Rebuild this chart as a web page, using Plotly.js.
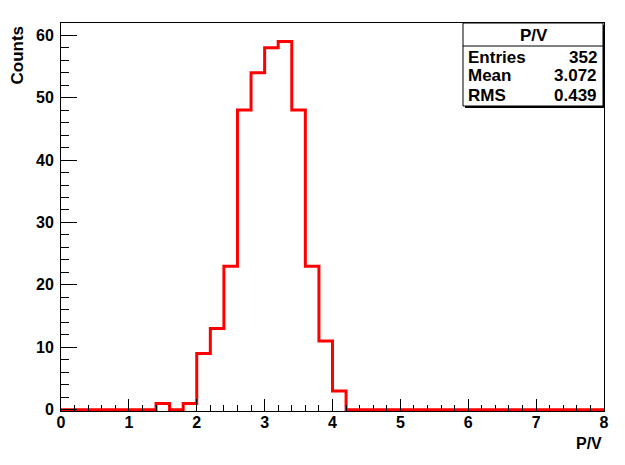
<!DOCTYPE html>
<html>
<head>
<meta charset="utf-8">
<script src="https://cdn.plot.ly/plotly-3.0.1.min.js"></script>
<style>
  body { margin: 0; background: #fff; }
  #hist { width: 625px; height: 465px; }
</style>
</head>
<body>
<div id="hist"></div>
<script>
// P/V histogram, 40 bins of 0.2 from 0 to 8
var binWidth = 0.2;
var xMin = 0;
var counts = [
  0, 0, 0, 0, 0, 0, 0, 1, 0, 1,
  9, 13, 23, 48, 54, 58, 59, 48, 23, 11,
  3, 0, 0, 0, 0, 0, 0, 0, 0, 0,
  0, 0, 0, 0, 0, 0, 0, 0, 0, 0
];
var statNames = ['Entries', 'Mean', 'RMS'];
var statValues = ['352', '3.072', '0.439'];

// step outline: one point per bin edge, last count repeated
var edges = [];
var steps = [];
for (var i = 0; i <= counts.length; i++) {
  edges.push(xMin + i * binWidth);
  steps.push(counts[Math.min(i, counts.length - 1)]);
}

// plot area in pixels
var L = 61, R = 604, T = 23, B = 411;
function px(x) { return (x - L) / (R - L); }
function py(y) { return (B - y) / (B - T); }

var bold = {family: 'Liberation Sans, Arial, sans-serif', size: 16, color: 'black', weight: 700};
var statFont = {family: 'Liberation Sans, Arial, sans-serif', size: 17, color: 'black', weight: 700};

var trace = {
  x: edges,
  y: steps,
  type: 'scatter',
  mode: 'lines',
  line: {shape: 'hv', color: '#ff0000', width: 3},
  hoverinfo: 'x+y'
};

var shapes = [
  // shadow
  {type: 'rect', xref: 'paper', yref: 'paper', x0: px(465), x1: px(605), y0: py(108), y1: py(25),
   fillcolor: 'black', line: {width: 0}, layer: 'above'},
  {type: 'rect', xref: 'paper', yref: 'paper', x0: px(463), x1: px(603), y0: py(106), y1: py(23),
   fillcolor: 'white', line: {color: 'black', width: 1}, layer: 'above'},
  {type: 'line', xref: 'paper', yref: 'paper', x0: px(463), x1: px(603), y0: py(46), y1: py(46),
   line: {color: 'black', width: 1}, layer: 'above'}
];

var annotations = [
  {text: 'P/V', xref: 'paper', yref: 'paper', x: px(534), y: py(35), xanchor: 'center', yanchor: 'middle',
   showarrow: false, font: statFont},
  {text: 'Counts', xref: 'paper', yref: 'paper', x: px(17), y: py(24), xanchor: 'center', yanchor: 'top',
   textangle: -90, showarrow: false, font: statFont},
  {text: 'P/V', xref: 'paper', yref: 'paper', x: px(604), y: py(443), xanchor: 'right', yanchor: 'middle',
   showarrow: false, font: bold}
];
var rowY = [57, 76, 95];
for (var k = 0; k < statNames.length; k++) {
  annotations.push({text: statNames[k], xref: 'paper', yref: 'paper', x: px(466), y: py(rowY[k]),
    xanchor: 'left', yanchor: 'middle', showarrow: false, font: statFont});
  annotations.push({text: statValues[k], xref: 'paper', yref: 'paper', x: px(599), y: py(rowY[k]),
    xanchor: 'right', yanchor: 'middle', showarrow: false, font: statFont});
}

var layout = {
  width: 625,
  height: 465,
  margin: {l: L, r: 625 - R, t: T, b: 465 - B, pad: 0},
  paper_bgcolor: 'white',
  plot_bgcolor: 'white',
  showlegend: false,
  font: bold,
  xaxis: {
    range: [0, 8],
    tickmode: 'linear', tick0: 0, dtick: 1,
    ticks: 'inside', ticklen: 12, tickwidth: 1, tickcolor: 'black',
    minor: {dtick: 0.2, ticks: 'inside', ticklen: 6, tickcolor: 'black', tickwidth: 1},
    showgrid: false, zeroline: false,
    showline: true, linecolor: 'black', linewidth: 1, mirror: true,
    ticklabelstandoff: -3,
    tickfont: bold
  },
  yaxis: {
    range: [-0.2, 61.95],
    tickmode: 'linear', tick0: 0, dtick: 10,
    ticks: 'inside', ticklen: 16, tickwidth: 1, tickcolor: 'black',
    minor: {dtick: 2, ticks: 'inside', ticklen: 8, tickcolor: 'black', tickwidth: 1},
    showgrid: false, zeroline: false,
    showline: true, linecolor: 'black', linewidth: 1, mirror: true,
    ticklabelstandoff: 3,
    tickfont: bold
  },
  shapes: shapes,
  annotations: annotations
};

Plotly.newPlot('hist', [trace], layout, {displayModeBar: false, staticPlot: true});
</script>
</body>
</html>
